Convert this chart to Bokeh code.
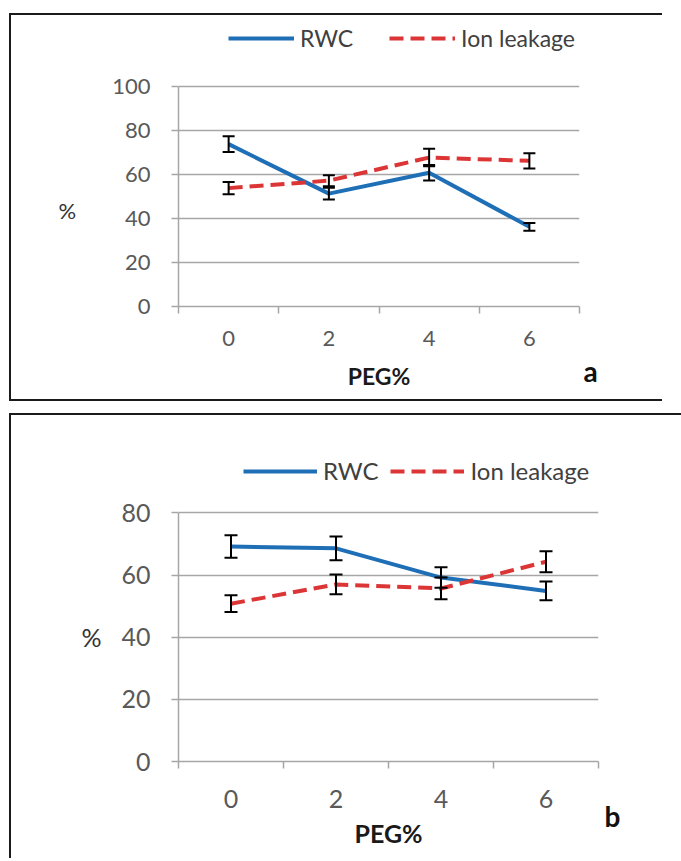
from bokeh.plotting import figure
from bokeh.models import (ColumnDataSource, Whisker, TeeHead, FixedTicker, Legend,
                          LegendItem, Spacer, Title)
from bokeh.layouts import column
from bokeh.embed import file_html
from bokeh.resources import INLINE

# ---- data -------------------------------------------------------------
peg = [0, 2, 4, 6]
boundaries = [-1, 1, 3, 5, 7]

rwc_a = [73.8, 51.3, 60.8, 36.2]
rwc_a_err = [3.6, 2.7, 3.5, 1.8]
ion_a = [53.8, 57.2, 67.7, 66.2]
ion_a_err = [2.8, 2.5, 4.0, 3.5]

rwc_b = [69.2, 68.6, 59.2, 54.9]
rwc_b_err = [3.6, 3.8, 3.3, 3.0]
ion_b = [50.8, 57.0, 55.7, 64.3]
ion_b_err = [2.7, 3.2, 3.5, 3.4]

yticks_a = [0, 20, 40, 60, 80, 100]
yticks_b = [0, 20, 40, 60, 80]

BLUE = "#1f6fb6"
RED = "#dc3535"
GRID = "#a6a6a6"
FONT = "Lato"


def panel(rwc, rwc_err, ion, ion_err, yticks, cfg):
    ymax = yticks[-1]
    # room above the value axis holds the legend (axis and grid stop at ymax)
    ytop = ymax * cfg["frame_px"] / cfg["axis_px"]
    p = figure(width=cfg["w"], height=cfg["h"], output_backend="svg",
               toolbar_location=None, x_range=(-1, 7),
               y_range=(0, ytop),
               min_border_left=cfg["ml"], min_border_right=cfg["mr"],
               min_border_top=cfg["mt"], min_border_bottom=cfg["mb"])
    p.outline_line_color = None
    p.background_fill_color = "white"
    p.border_fill_color = "white"

    r1 = p.line(peg, rwc, line_color=BLUE, line_width=4, line_join="round")
    r2 = p.line(peg, ion, line_color=RED, line_width=4, line_dash="14 7")

    for vals, errs in ((rwc, rwc_err), (ion, ion_err)):
        src = ColumnDataSource(dict(
            x=peg,
            upper=[v + e for v, e in zip(vals, errs)],
            lower=[v - e for v, e in zip(vals, errs)]))
        w = Whisker(base="x", upper="upper", lower="lower", source=src,
                    line_color="black", line_width=2,
                    upper_head=TeeHead(size=cfg["cap"], line_width=2, line_color="black"),
                    lower_head=TeeHead(size=cfg["cap"], line_width=2, line_color="black"))
        w.level = "overlay"
        p.add_layout(w)

    # axes
    p.xaxis.ticker = FixedTicker(ticks=peg, minor_ticks=boundaries)
    p.xaxis.major_tick_out = 0
    p.xaxis.major_tick_in = 0
    p.xaxis.minor_tick_out = 7
    p.xaxis.minor_tick_in = 0
    p.yaxis.ticker = FixedTicker(ticks=yticks, minor_ticks=[])
    p.yaxis.bounds = (0, ymax)
    p.yaxis.major_tick_out = 7
    p.yaxis.major_tick_in = 0
    for ax in (p.xaxis[0], p.yaxis[0]):
        ax.axis_line_color = GRID
        ax.axis_line_width = 1.5
        ax.major_tick_line_color = GRID
        ax.major_tick_line_width = 1.5
        ax.minor_tick_line_color = GRID
        ax.minor_tick_line_width = 1.5
        ax.major_label_text_font = FONT
        ax.major_label_text_font_size = cfg["tick_fs"]
        ax.major_label_text_color = "#595959"
    p.yaxis.major_label_standoff = 21
    p.xaxis.major_label_standoff = cfg["xstand"]

    p.xaxis.axis_label = "PEG%"
    p.xaxis.axis_label_text_font = FONT
    p.xaxis.axis_label_text_font_style = "bold"
    p.xaxis.axis_label_text_font_size = cfg["lab_fs"]
    p.xaxis.axis_label_text_color = "#1a1a1a"
    p.xaxis.axis_label_standoff = cfg["xlabstand"]

    # leading blank lines lower the "%" to where the reference shows it
    p.yaxis.axis_label = "\n" * cfg["pct_shift"] + "%"
    p.yaxis.axis_label_orientation = "horizontal"
    p.yaxis.axis_label_text_font = FONT
    p.yaxis.axis_label_text_font_style = "normal"
    p.yaxis.axis_label_text_font_size = cfg["tick_fs"]
    p.yaxis.axis_label_text_color = "#333333"
    p.yaxis.axis_label_standoff = cfg["ylabstand"]

    p.xgrid.visible = False
    p.ygrid.grid_line_color = GRID
    p.ygrid.grid_line_width = 1.5

    legend = Legend(items=[LegendItem(label="RWC", renderers=[r1]),
                           LegendItem(label="Ion leakage", renderers=[r2])],
                    orientation="horizontal", location=cfg["leg_loc"],
                    label_text_font=FONT, label_text_font_size=cfg["leg_fs"],
                    label_text_color="#404040", glyph_width=cfg["gw"],
                    glyph_height=20, label_standoff=6, spacing=cfg["spacing"],
                    padding=0, margin=0, border_line_alpha=0,
                    background_fill_alpha=0)
    p.add_layout(legend)

    # panel letter
    p.add_layout(Title(text=cfg["tag"], align="left", offset=cfg["tag_off"],
                       vertical_align="top", standoff=cfg["tag_stand"],
                       text_font=FONT, text_font_style="bold",
                       text_font_size="28px", text_color="#111111"), "below")

    p.styles = cfg["styles"]
    return p


BORDER = "2px solid #1a1a1a"

cfg_a = dict(w=653, h=388, ml=167, mr=85, mt=1, mb=97, cap=12,
             frame_px=286, axis_px=217,
             tick_fs="22px", lab_fs="23px", xstand=17, xlabstand=13,
             ylabstand=33, pct_shift=3, leg_loc=(50, 254), leg_fs="23px", gw=66,
             spacing=36, tag="a", tag_off=405, tag_stand=-78,
             styles={"border-top": BORDER, "border-left": BORDER,
                     "border-bottom": BORDER})
cfg_b = dict(w=672, h=445, ml=167, mr=85, mt=24, mb=99, cap=13,
             frame_px=320, axis_px=247,
             tick_fs="25px", lab_fs="25px", xstand=21, xlabstand=7,
             ylabstand=17, pct_shift=2, leg_loc=(65, 276), leg_fs="24px", gw=74,
             spacing=12, tag="b", tag_off=426, tag_stand=-104,
             styles={"border-top": BORDER, "border-left": BORDER})

pa = panel(rwc_a, rwc_a_err, ion_a, ion_a_err, yticks_a, cfg_a)
pb = panel(rwc_b, rwc_b_err, ion_b, ion_b_err, yticks_b, cfg_b)

layout = column(Spacer(height=13), pa, Spacer(height=12), pb, spacing=0,
                styles={"margin-left": "9px"})

with open("out.html", "w") as f:
    f.write(file_html(layout, INLINE))
